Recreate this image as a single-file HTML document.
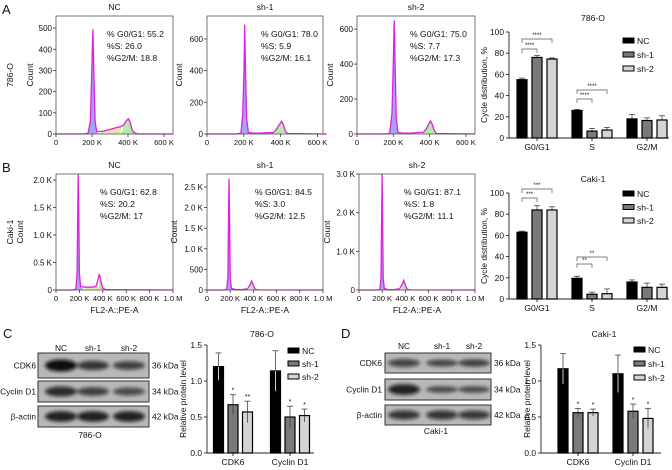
<!DOCTYPE html>
<html><head><meta charset="utf-8"><style>
html,body{margin:0;padding:0;background:#fff;}
svg{display:block;font-family:"Liberation Sans",Arial,sans-serif;}
</style></head><body>
<svg id="fig" width="672" height="470" viewBox="0 0 672 470" xmlns="http://www.w3.org/2000/svg">
<defs>
<filter id="blur1" x="-20%" y="-50%" width="140%" height="200%"><feGaussianBlur stdDeviation="1.8"/></filter>
</defs>
</svg>
<script>
// ---------- DATA ----------
// Histogram curves: [DNA content (K), count]
const histA_NC = [[0,0],[145,0],[178,3],[191,60],[199,300],[205,495],[210,300],[217,60],[226,12],[255,12],[295,20],[335,30],[360,35],[375,42],[390,62],[402,72],[412,55],[422,20],[437,5],[457,0],[650,0]];
const histA_sh1 = [[0,0],[160,0],[184,5],[194,120],[201,400],[205,690],[209,400],[215,100],[225,10],[250,5],[290,5],[330,8],[360,8],[375,25],[393,60],[405,80],[415,60],[425,20],[438,3],[650,0]];
const histA_sh2 = [[0,0],[160,0],[180,5],[193,120],[200,400],[205,650],[210,400],[216,100],[225,10],[250,5],[290,5],[330,8],[365,10],[383,30],[396,60],[405,75],[415,55],[425,20],[438,3],[650,0]];
const histB_NC = [[0,0],[150,0],[170,20],[180,300],[186,1500],[190,2100],[194,1500],[200,300],[210,60],[250,50],[300,50],[340,60],[355,150],[370,290],[385,150],[400,30],[430,5],[1000,0]];
const histB_sh1 = [[0,0],[150,0],[170,20],[180,300],[186,1900],[190,2700],[194,1900],[200,300],[210,40],[250,10],[300,10],[350,30],[370,120],[385,220],[400,120],[415,20],[440,3],[1000,0]];
const histB_sh2 = [[0,0],[160,0],[180,20],[190,300],[196,2000],[199,3000],[203,2000],[209,300],[218,40],[250,10],[300,10],[350,30],[370,130],[385,250],[400,130],[415,20],[440,3],[1000,0]];
const statsA_NC = ["% G0/G1: 55.2","%S: 26.0","%G2/M: 18.8"];
const statsA_sh1 = ["% G0/G1: 78.0","%S: 5.9","%G2/M: 16.1"];
const statsA_sh2 = ["% G0/G1: 75.0","%S: 7.7","%G2/M: 17.3"];
const statsB_NC = ["% G0/G1: 62.8","%S: 20.2","%G2/M: 17"];
const statsB_sh1 = ["% G0/G1: 84.5","%S: 3.0","%G2/M: 12.5"];
const statsB_sh2 = ["% G0/G1: 87.1","%S: 1.8","%G2/M: 11.1"];

// Cycle distribution bar charts
const phases = ["G0/G1","S","G2/M"];
const groups = ["NC","sh-1","sh-2"];
const cyc786_NC = [55,26,18];
const cyc786_sh1 = [76,6.5,16.5];
const cyc786_sh2 = [74.5,7.5,17];
const cyc786_errNC = [1.5,1,4];
const cyc786_errSh1 = [2,2.5,2.5];
const cyc786_errSh2 = [1,2.5,4];
const cycCaki_NC = [63,19.5,16];
const cycCaki_sh1 = [84,4.5,11];
const cycCaki_sh2 = [84,5,11];
const cycCaki_errNC = [1,2,2];
const cycCaki_errSh1 = [4,2,4];
const cycCaki_errSh2 = [3,4.5,3];
const cycTicks = [0,20,40,60,80,100];

// Protein level bar charts
const proteins = ["CDK6","Cyclin D1"];
const prot786_NC = [1.2,1.14];
const prot786_sh1 = [0.67,0.5];
const prot786_sh2 = [0.57,0.52];
const prot786_errNC = [0.19,0.28];
const prot786_errSh1 = [0.14,0.15];
const prot786_errSh2 = [0.15,0.09];
const prot786_stars = [["","*","**"],["","*","*"]];
const protCaki_NC = [1.17,1.1];
const protCaki_sh1 = [0.56,0.58];
const protCaki_sh2 = [0.56,0.48];
const protCaki_errNC = [0.21,0.26];
const protCaki_errSh1 = [0.06,0.1];
const protCaki_errSh2 = [0.05,0.14];
const protCaki_stars = [["","*","*"],["","*","*"]];
const protTicks = [0,0.5,1.0,1.5];
const protTickLabels = ["0.0","0.5","1.0","1.5"];

// ---------- HELPERS ----------
const NS = "http://www.w3.org/2000/svg";
const svg = document.getElementById('fig');
function mk(tag, attrs, parent){
  const e = document.createElementNS(NS, tag);
  for (const k in attrs) e.setAttribute(k, attrs[k]);
  (parent||svg).appendChild(e);
  return e;
}
function txt(x,y,s,size,anchor,parent,extra){
  const t = mk('text', Object.assign({x:x,y:y,'font-size':size,'text-anchor':anchor||'middle',fill:'#111'}, extra||{}), parent);
  t.textContent = s;
  return t;
}
const barFill = ["#000","#7a7a7a","#d4d4d4"];

// ---------- HISTOGRAMS ----------
function drawHist(name, box, xmaxK, ymax, yvals, ylabels, xvals, xlabels, xdx, pts, stats, sx, sy, title, countX, xlabelY){
  const g = mk('g', {});
  
  
  const X = k => box.x0 + (k/xmaxK)*(box.x1-box.x0);
  const Y = c => box.y1 - (c/ymax)*(box.y1-box.y0);
  const regions = [[0,240,"#9a9af2"],[240,365,"#e8e3a0"],[365,xmaxK,"#a8eaa0"]];
  regions.forEach(r=>{
    let d = "M"+X(r[0])+","+Y(0);
    pts.forEach(p=>{ if(p[0]>=r[0] && p[0]<=r[1]) d += " L"+X(p[0])+","+Y(p[1]); });
    d += " L"+X(Math.min(r[1],xmaxK))+","+Y(0)+" Z";
    const f = mk('path',{d:d,fill:r[2],stroke:'none','fill-opacity':0.9}, g);
    
    
  });
  let d = "";
  pts.forEach((p,i)=>{ d += (i?" L":"M")+X(p[0]).toFixed(1)+","+Y(p[1]).toFixed(1); });
  const line = mk('path',{d:d,fill:'none',stroke:'#e01fe0','stroke-width':1.3}, g);
  
  
  const frame = mk('rect',{x:box.x0,y:box.y0,width:box.x1-box.x0,height:box.y1-box.y0,fill:'none',stroke:'#555','stroke-width':0.8}, g);
  
  
  yvals.forEach((v,i)=>{
    mk('line',{x1:box.x0-3,x2:box.x0,y1:Y(v),y2:Y(v),stroke:'#333','stroke-width':0.8},g);
    const t = txt(box.x0-4,Y(v)+3,ylabels[i],8,'end',g);
    
    
  });
  xvals.forEach((v,i)=>{
    mk('line',{x1:X(v),x2:X(v),y1:box.y1,y2:box.y1+3,stroke:'#333','stroke-width':0.8},g);
    const t = txt(X(v)+(i?xdx:0),box.y1+11,xlabels[i],7.6,'middle',g);
    
    
  });
  stats.forEach((s,i)=>{
    const t = txt(sx, sy+i*12, s, 8.6, 'start', g);
    
    
  });
  const tt = txt((box.x0+box.x1)/2, box.y0-6, title, 8.6, 'middle', g);
  
  
  const ct = txt(countX, (box.y0+box.y1)/2, "Count", 8.6, 'middle', g, {transform:'rotate(-90 '+countX+' '+((box.y0+box.y1)/2)+')'});
  
  
  if (xlabelY){
    const xl = txt((box.x0+box.x1)/2, xlabelY, "FL2-A::PE-A", 8.6, 'middle', g);
    
    
  }
}
const kA = ["0","200 K","400 K","600 K"];
drawHist('histogram-786o-nc',{x0:56,x1:173,y0:16,y1:134},650,557,[0,100,200,300,400,500],["0","100","200","300","400","500"],[0,200,400,600],kA,0,histA_NC,statsA_NC,107,37,"NC",33,null);
drawHist('histogram-786o-sh1',{x0:207,x1:323,y0:16,y1:134},630,745,[0,200,400,600],["0","200","400","600"],[0,200,400,600],kA,0,histA_sh1,statsA_sh1,261,37,"sh-1",182,null);
drawHist('histogram-786o-sh2',{x0:357,x1:475,y0:16,y1:134},650,675,[0,200,400,600],["0","200","400","600"],[0,200,400,600],kA,0,histA_sh2,statsA_sh2,410,37,"sh-2",333,null);
const kB = ["0","200 K","400 K","600 K","800 K","1.0 M"];
drawHist('histogram-caki1-nc',{x0:56,x1:173,y0:174,y1:290},1000,2109,[0,500,1000,1500,2000],["0","0.5 K","1.0 K","1.5 K","2.0 K"],[0,200,400,600,800,1000],kB,0,histB_NC,statsB_NC,100,195,"NC",23,313);
drawHist('histogram-caki1-sh1',{x0:207,x1:323,y0:174,y1:290},1000,2816,[0,500,1000,1500,2000,2500],["0","500","1.0 K","1.5 K","2.0 K","2.5 K"],[0,200,400,600,800,1000],kB,0,histB_sh1,statsB_sh1,255,195,"sh-1",177,313);
drawHist('histogram-caki1-sh2',{x0:359,x1:475,y0:174,y1:290},1000,3000,[0,1000,2000,3000],["0","1.0 K","2.0 K","3.0 K"],[0,200,400,600,800,1000],kB,0,histB_sh2,statsB_sh2,404,195,"sh-2",330,313);

const l1 = txt(13,75,"786-O",8.6,'middle',svg,{transform:'rotate(-90 13 75)'});


const l2 = txt(13,232,"Caki-1",8.6,'middle',svg,{transform:'rotate(-90 13 232)'});



[["A",2,14],["B",2,172],["C",3,338],["D",341,338]].forEach(p=>{
  const t = txt(p[1],p[2],p[0],13,'start');
  
  
});

// ---------- BAR CHARTS ----------
function drawBars(name, opt){
  const g = mk('g',{});
  
  
  const Y = v => opt.y0 - (v/opt.vmax)*(opt.y0-opt.ytop);
  mk('line',{x1:opt.ax,x2:opt.ax,y1:opt.ytop,y2:opt.y0,stroke:'#222','stroke-width':0.9},g);
  mk('line',{x1:opt.ax,x2:opt.axEnd,y1:opt.y0,y2:opt.y0,stroke:'#222','stroke-width':0.9},g);
  opt.ticks.forEach((v,i)=>{
    mk('line',{x1:opt.ax-3,x2:opt.ax,y1:Y(v),y2:Y(v),stroke:'#222','stroke-width':0.9},g);
    const t = txt(opt.ax-5,Y(v)+3,opt.tickLabels[i],8.4,'end',g);
    
    
  });
  const yl = txt(opt.ylX,(opt.ytop+opt.y0)/2,opt.ylabel,8.4,'middle',g,{transform:'rotate(-90 '+opt.ylX+' '+((opt.ytop+opt.y0)/2)+')'});
  
  
  const tt = txt(opt.titleX,opt.titleY,opt.title,8.6,'middle',g);
  
  
  opt.cats.forEach((c,ci)=>{
    const cx = opt.c0 + ci*opt.cstep;
    mk('line',{x1:cx,x2:cx,y1:opt.y0,y2:opt.y0+3,stroke:'#222','stroke-width':0.9},g);
    const ct = txt(cx,opt.y0+12,c,8.6,'middle',g);
    
    
    opt.series.forEach((s,si)=>{
      const bx = cx + (si-1)*opt.bstep - opt.bw/2;
      const v = s[ci], e = opt.errs[si][ci];
      const eb = mk('line',{x1:bx+opt.bw/2,x2:bx+opt.bw/2,y1:Y(v),y2:Y(v+e),stroke:'#444','stroke-width':0.8},g);
      
      
      mk('line',{x1:bx+opt.bw/2-3,x2:bx+opt.bw/2+3,y1:Y(v+e),y2:Y(v+e),stroke:'#444','stroke-width':0.8},g);
      const r = mk('rect',{x:bx,y:Y(v),width:opt.bw,height:opt.y0-Y(v),fill:barFill[si],stroke:'#000','stroke-width':1.2},g);
      
      
      if (opt.stars && opt.stars[ci][si]){
        const st = txt(bx+opt.bw/2,Y(v+e)-2,opt.stars[ci][si],7,'middle',g);
        
        
      }
      if (opt.errLow){
        mk('line',{x1:bx+opt.bw/2,x2:bx+opt.bw/2,y1:Y(v),y2:Y(v-e),stroke:si===0?'#fff':'#444','stroke-width':0.8},g);
      }
    });
  });
  groups.forEach((n,i)=>{
    const ly = opt.legY + i*opt.legStep;
    const sw = mk('rect',{x:opt.legX,y:ly-4,width:11,height:5,fill:barFill[i],stroke:'#000','stroke-width':1},g);
    
    
    const lt = txt(opt.legX+14,ly+2,n,8.6,'start',g);
    
    
  });
  (opt.brackets||[]).forEach(b=>{
    const x1 = opt.c0 + b[0]*opt.cstep - opt.bstep, x2 = opt.c0 + b[0]*opt.cstep + (b[1]-1)*opt.bstep;
    const bk = mk('path',{d:'M'+x1+','+(b[2]+4)+' L'+x1+','+b[2]+' L'+x2+','+b[2]+' L'+x2+','+(b[2]+4),fill:'none',stroke:'#555','stroke-width':0.7},g);
    
    
    const bt = txt((x1+x2)/2,b[2]-2,b[3],6,'middle',g);
    
    
  });
}
drawBars('cycle-distribution-786o',{ax:509,axEnd:669,ytop:32,y0:138,vmax:100,ticks:cycTicks,tickLabels:cycTicks.map(String),ylX:487,ylabel:"Cycle distribution, %",title:"786-O",titleX:593,titleY:21,cats:phases,c0:537,cstep:55,bstep:15,bw:10,series:[cyc786_NC,cyc786_sh1,cyc786_sh2],errs:[cyc786_errNC,cyc786_errSh1,cyc786_errSh2],legX:623,legY:42,legStep:14,brackets:[[0,1,49,"****"],[0,2,39,"****"],[1,1,99,"****"],[1,2,90,"****"]]});
drawBars('cycle-distribution-caki1',{ax:509,axEnd:669,ytop:193,y0:299,vmax:100,ticks:cycTicks,tickLabels:cycTicks.map(String),ylX:487,ylabel:"Cycle distribution, %",title:"Caki-1",titleX:593,titleY:182,cats:phases,c0:537,cstep:55,bstep:15,bw:10,series:[cycCaki_NC,cycCaki_sh1,cycCaki_sh2],errs:[cycCaki_errNC,cycCaki_errSh1,cycCaki_errSh2],legX:623,legY:195,legStep:13.5,brackets:[[0,1,198,"***"],[0,2,189,"***"],[1,1,264,"**"],[1,2,257,"**"]]});
drawBars('protein-level-786o',{ax:207,axEnd:314,ytop:345,y0:453,vmax:1.5,ticks:protTicks,tickLabels:protTickLabels,ylX:186,ylabel:"Relative protein level",title:"786-O",titleX:262,titleY:337,cats:proteins,c0:233,cstep:57,bstep:14.5,bw:10,series:[prot786_NC,prot786_sh1,prot786_sh2],errs:[prot786_errNC,prot786_errSh1,prot786_errSh2],stars:prot786_stars,errLow:true,legX:288,legY:352,legStep:13});
drawBars('protein-level-caki1',{ax:541,axEnd:661,ytop:345,y0:453,vmax:1.5,ticks:protTicks,tickLabels:protTickLabels,ylX:530,ylabel:"Relative protein level",title:"Caki-1",titleX:604,titleY:337,cats:proteins,c0:578,cstep:55,bstep:15,bw:10,series:[protCaki_NC,protCaki_sh1,protCaki_sh2],errs:[protCaki_errNC,protCaki_errSh1,protCaki_errSh2],stars:protCaki_stars,errLow:true,legX:634,legY:351,legStep:14});

// ---------- WESTERN BLOTS ----------
function drawBlot(name, x0, x1, rows, lanes, laneY, rowLabelX, kdaX, caption, capX, capY, intensities){
  const g = mk('g',{});
  
  
  lanes.forEach(l=>{
    const t = txt(l[1],laneY,l[0],8.4,'middle',g);
    
    
  });
  rows.forEach((r,ri)=>{
    const bg = mk('rect',{x:x0,y:r[1],width:x1-x0,height:r[2]-r[1],fill:'#b8b8b8',stroke:'#333','stroke-width':1},g);
    
    
    const cy = (r[1]+r[2])/2;
    lanes.forEach((l,li)=>{
      const a = intensities[ri][li];
      const b = mk('ellipse',{cx:l[1],cy:cy,rx:16,ry:2.5+3.5*a,fill:'#0a0a0a','fill-opacity':0.45+0.55*a,filter:'url(#blur1)'},g);
      
      
    });
    const rl = txt(rowLabelX,cy+3,r[0],8.4,'end',g);
    
    
    const kd = txt(kdaX,cy+3,r[3],8.4,'start',g);
    
    
  });
  const c = txt(capX,capY,caption,8.4,'middle',g);
  
  
}
drawBlot('western-blot-786o',38,149,[["CDK6",353,378,"36 kDa"],["Cyclin D1",381,402,"34 kDa"],["β-actin",406,427,"42 kDa"]],[["NC",61],["sh-1",93],["sh-2",129]],351,36,152,"786-O",90,438,[[1,0.6,0.5],[0.7,0.5,0.4],[0.8,0.8,0.8]]);
drawBlot('western-blot-caki1',385,491,[["CDK6",353,373,"36 kDa"],["Cyclin D1",379,400,"34 kDa"],["β-actin",405,425,"42 kDa"]],[["NC",404],["sh-1",442],["sh-2",474]],349,382,494,"Caki-1",436,434,[[0.45,0.3,0.35],[0.8,0.25,0.25],[0.6,0.6,0.55]]);
</script>
</body></html>
